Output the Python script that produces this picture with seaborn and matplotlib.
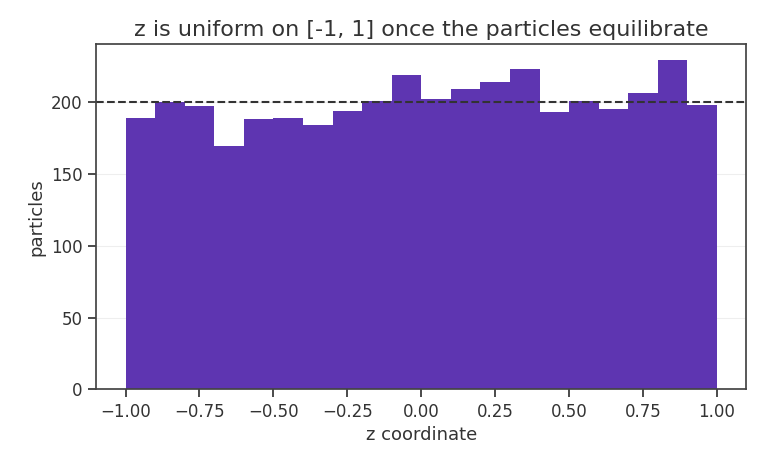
import numpy as np
import pandas as pd
import seaborn as sns
import matplotlib
matplotlib.use("Agg")
import matplotlib.pyplot as plt

bin_edges = [round(-1 + 0.1 * i, 2) for i in range(21)]
counts = [189, 200, 197, 169, 188, 189, 184, 194, 201, 219,
          202, 209, 214, 223, 193, 201, 195, 206, 229, 198]
expected = 200

sns.set_theme(style="ticks")
plt.rcParams['font.family'] = ['DejaVu Sans']
fig, ax = plt.subplots(figsize=(7.68, 4.68), dpi=100)
edges = np.array(bin_edges)
centers = (edges[:-1] + edges[1:]) / 2
df = pd.DataFrame({"z": centers, "w": counts})
sns.histplot(data=df, x="z", weights="w", bins=bin_edges, color="#5E35B1",
             alpha=1, edgecolor="none", linewidth=0, ax=ax)
ax.axhline(expected, color="#333333", linestyle="--", linewidth=1.5)
ax.yaxis.grid(True, color="#eeeeee", linewidth=0.8)
ax.set_axisbelow(True)
ax.set_ylim(0, 240)
ax.set_xlim(-1.1, 1.1)
ax.set_xticks(np.arange(-1, 1.01, 0.25))
ax.set_yticks([0, 50, 100, 150, 200])
ax.set_xlabel("z coordinate", fontsize=13, color="#333333")
ax.set_ylabel("particles", fontsize=13, color="#333333")
ax.set_title("z is uniform on [-1, 1] once the particles equilibrate", fontsize=16, color="#333333")
ax.tick_params(labelsize=12, colors="#333333")
for s in ax.spines.values():
    s.set_color("#444444")
fig.subplots_adjust(left=0.125, right=0.972, top=0.905, bottom=0.168)
fig.savefig("out.png")
